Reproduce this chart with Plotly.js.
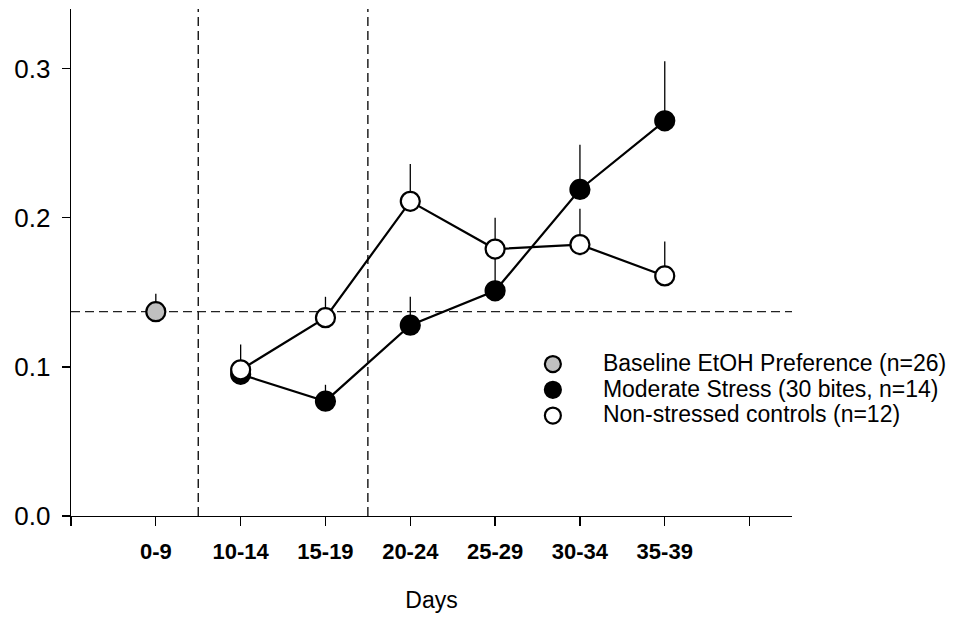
<!DOCTYPE html>
<html>
<head>
<meta charset="utf-8">
<script src="https://cdn.plot.ly/plotly-3.0.1.min.js"></script>
<style>html,body{margin:0;padding:0;background:#fff;}#chart{width:968px;height:619px;}</style>
</head>
<body>
<div id="chart"></div>
<script>
// ---- data ----
var categories = ['0-9', '10-14', '15-19', '20-24', '25-29', '30-34', '35-39'];
var baselineValue = [0.137];
var baselineErr = [0.012];
var stressCats = ['10-14', '15-19', '20-24', '25-29', '30-34', '35-39'];
var stressValues = [0.095, 0.077, 0.128, 0.151, 0.219, 0.265];
var stressErr = [0.000, 0.011, 0.019, 0.022, 0.030, 0.040];
var controlValues = [0.098, 0.133, 0.211, 0.179, 0.182, 0.161];
var controlErr = [0.017, 0.014, 0.025, 0.021, 0.024, 0.023];
var seriesNames = ['Baseline EtOH Preference (n=26)', 'Moderate Stress (30 bites, n=14)', 'Non-stressed controls (n=12)'];
var phaseBoundaries = [1.5, 3.5];
var yTicks = [0, 0.1, 0.2, 0.3];

// positions of categories on a numeric axis (1..n), with empty slots at both ends
function pos(c) { return categories.indexOf(c) + 1; }
var tickVals = [0].concat(categories.map(pos)).concat([categories.length + 1]);
var tickText = [''].concat(categories).concat(['']);
function zeros(a) { return a.map(function () { return 0; }); }

var legendFont = 'Liberation Sans, Arial, sans-serif';
function nm(s) { return '<span style="font-size:23px">' + s + '</span>'; }

var markerLine = {color: '#000', width: 2.2};
var errStyle = function (arr) {
  return {type: 'data', symmetric: false, array: arr, arrayminus: zeros(arr), width: 0, thickness: 1.3, color: '#000'};
};

var traces = [
  {
    x: ['0-9'].map(pos), y: baselineValue, name: nm(seriesNames[0]), mode: 'markers', type: 'scatter',
    marker: {size: 19, color: '#c0c0c0', line: markerLine},
    error_y: errStyle(baselineErr), hoverinfo: 'skip'
  },
  {
    x: stressCats.map(pos), y: stressValues, mode: 'lines', type: 'scatter', showlegend: false,
    line: {color: '#000', width: 2.2}, hoverinfo: 'skip'
  },
  {
    x: stressCats.map(pos), y: stressValues, name: nm(seriesNames[1]), mode: 'markers', type: 'scatter',
    marker: {size: 19, color: '#000', line: markerLine},
    error_y: errStyle(stressErr), hoverinfo: 'skip'
  },
  {
    x: stressCats.map(pos), y: controlValues, mode: 'lines', type: 'scatter', showlegend: false,
    line: {color: '#000', width: 2.2}, hoverinfo: 'skip'
  },
  {
    x: stressCats.map(pos), y: controlValues, name: nm(seriesNames[2]), mode: 'markers', type: 'scatter',
    marker: {size: 19, color: '#fff', line: markerLine},
    error_y: errStyle(controlErr), hoverinfo: 'skip'
  }
];

var shapes = phaseBoundaries.map(function (b) {
  return {type: 'line', xref: 'x', yref: 'paper', x0: b, x1: b, y0: 0, y1: 1, layer: 'below',
          line: {color: '#000', width: 1.3, dash: '9px,5px'}};
});
shapes.push({type: 'line', xref: 'paper', yref: 'y', x0: 0, x1: 1, y0: baselineValue[0], y1: baselineValue[0], layer: 'below',
             line: {color: '#222', width: 1.3, dash: '9px,5px'}});

var layout = {
  width: 968, height: 619,
  margin: {l: 71, r: 176, t: 9, b: 103},
  paper_bgcolor: '#fff', plot_bgcolor: '#fff',
  showlegend: true,
  legend: {
    x: 0.599, y: 0.335, xanchor: 'left', yanchor: 'top',
    font: {family: legendFont, size: 17.5, color: '#000'},
    itemwidth: 90, bgcolor: 'rgba(0,0,0,0)', borderwidth: 0,
    itemclick: false, itemdoubleclick: false
  },
  xaxis: {
    range: [0, categories.length + 1.5],
    tickmode: 'array', tickvals: tickVals, ticktext: tickText,
    showgrid: false, zeroline: false, showline: true, linecolor: '#000', linewidth: 1.3,
    ticks: 'outside', ticklen: 9, tickwidth: 1.3, tickcolor: '#000',
    ticklabelstandoff: 6,
    tickfont: {family: 'Liberation Sans Narrow, Arial Narrow, Liberation Sans, Arial, sans-serif', size: 22, color: '#000', weight: 'bold'},
    title: {text: 'Days', font: {family: legendFont, size: 23, color: '#000'}, standoff: 29},
    fixedrange: true
  },
  yaxis: {
    range: [0, 0.34],
    tickmode: 'array', tickvals: yTicks, ticktext: yTicks.map(function (v) { return v.toFixed(1); }),
    showgrid: false, zeroline: false, showline: true, linecolor: '#000', linewidth: 1.3,
    ticks: 'outside', ticklen: 8, tickwidth: 1.3, tickcolor: '#000',
    ticklabelstandoff: 6,
    tickfont: {family: legendFont, size: 26, color: '#000'},
    fixedrange: true
  },
  shapes: shapes
};

Plotly.newPlot('chart', traces, layout, {staticPlot: true, displayModeBar: false});
</script>
</body>
</html>
